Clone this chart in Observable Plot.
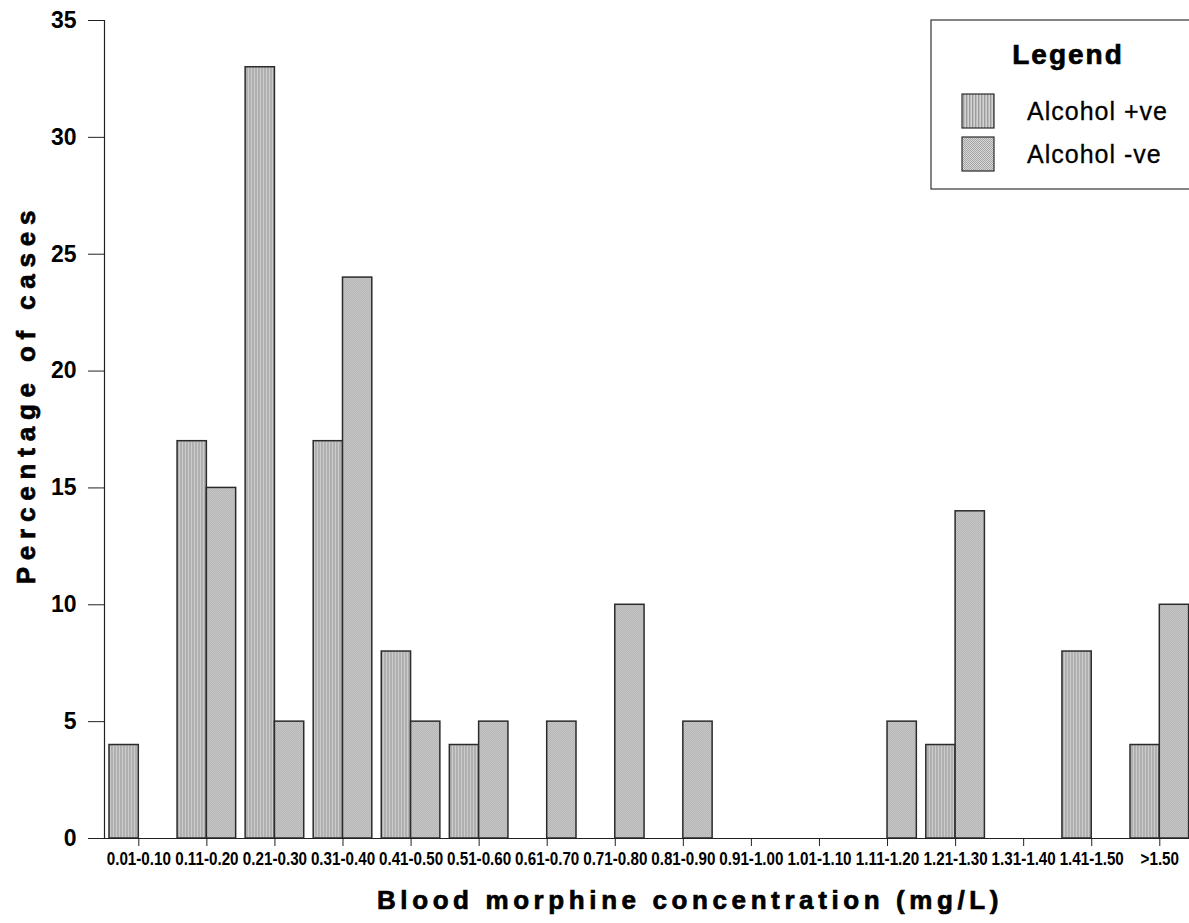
<!DOCTYPE html>
<html>
<head>
<meta charset="utf-8">
<script src="https://cdn.jsdelivr.net/npm/d3@7"></script>
<script src="https://cdn.jsdelivr.net/npm/@observablehq/plot@0.6"></script>
<style>
  body { margin: 0; background: #fff; }
  #chart { position: relative; width: 1189px; height: 923px; overflow: hidden; }
</style>
</head>
<body>
<svg width="0" height="0" style="position:absolute">
  <defs>
    <pattern id="pPos" width="3" height="4" patternUnits="userSpaceOnUse">
      <rect width="3" height="4" fill="#d2d2d2"/>
      <rect x="0" width="1" height="4" fill="#9c9c9c"/>
      <rect x="1" width="1" height="4" fill="#bdbdbd"/>
    </pattern>
    <pattern id="pNeg" width="2" height="2" patternUnits="userSpaceOnUse">
      <rect width="2" height="2" fill="#d8d8d8"/>
      <rect x="0" y="0" width="1" height="1" fill="#a4a4a4"/>
      <rect x="1" y="1" width="1" height="1" fill="#a4a4a4"/>
    </pattern>
  </defs>
</svg>
<div id="chart"></div>
<script>
const categories = ["0.01-0.10","0.11-0.20","0.21-0.30","0.31-0.40","0.41-0.50","0.51-0.60","0.61-0.70","0.71-0.80","0.81-0.90","0.91-1.00","1.01-1.10","1.11-1.20","1.21-1.30","1.31-1.40","1.41-1.50",">1.50"];
const alcoholPositive = [4,17,33,17,8,4,0,0,0,0,0,0,4,0,8,4];
const alcoholNegative = [0,15,5,24,5,5,5,10,5,0,0,5,14,0,0,10];
const seriesNames = ["Alcohol +ve","Alcohol -ve"];
const yTicks = [0,5,10,15,20,25,30,35];
const xTitle = "Blood morphine concentration (mg/L)";
const yTitle = "Percentage of cases";
const legendTitle = "Legend";

const posRows = categories.map((c, i) => ({category: c, series: seriesNames[0], value: alcoholPositive[i]}));
const negRows = categories.map((c, i) => ({category: c, series: seriesNames[1], value: alcoholNegative[i]}));

const barW = 29.3;
const font = "'Liberation Sans', Arial, sans-serif";

const svg = Plot.plot({
  width: 1189,
  height: 923,
  marginTop: 20,
  marginBottom: 85,
  marginLeft: 104,
  marginRight: 0,
  style: {background: "#fff", color: "#000", fontFamily: font},
  x: {domain: categories, range: [104, 1193.6], paddingInner: 0.5696, paddingOuter: 0.2887, align: 0.5, round: false},
  y: {domain: [0, 35]},
  marks: [
    Plot.barY(posRows, {x: "category", y: "value", fill: "url(#pPos)", stroke: "#2b2b2b", strokeWidth: 1.5, dx: -barW / 2}),
    Plot.barY(negRows, {x: "category", y: "value", fill: "url(#pNeg)", stroke: "#2b2b2b", strokeWidth: 1.5, dx: barW / 2}),
    Plot.ruleY([0], {stroke: "#222", strokeWidth: 1.2}),
    Plot.frame({anchor: "left", stroke: "#222", strokeWidth: 1.2}),
    Plot.axisY({ticks: yTicks, tickSize: 16, tickPadding: 12, fontSize: 23, fontWeight: "bold", fontFamily: font, label: null, stroke: "#222"}),
    Plot.axisX({tickSize: 8, tickPadding: 5, fontSize: 19, fontWeight: "bold", fontFamily: font, label: null, stroke: "#222"})
  ]
});

const s = d3.select(svg);

// condense the x tick labels horizontally (narrow bold face in the reference)
s.selectAll('[aria-label="x-axis tick label"] text').each(function () {
  const t = this.getAttribute("transform") || "";
  const x = this.getAttribute("x");
  if (x != null) this.setAttribute("x", +x / 0.8);
  this.setAttribute("transform", t + " scale(0.8,1)");
});

// axis titles (heavy face: bold plus a thin matching stroke)
s.append("text")
  .attr("x", 690).attr("y", 909)
  .attr("text-anchor", "middle")
  .attr("stroke", "#000").attr("stroke-width", 0.7)
  .style("font", `bold 26px ${font}`)
  .style("letter-spacing", "4.6px")
  .text(xTitle);
s.append("text")
  .attr("transform", "translate(35,394) rotate(-90)")
  .attr("text-anchor", "middle")
  .attr("stroke", "#000").attr("stroke-width", 0.7)
  .style("font", `bold 26px ${font}`)
  .style("letter-spacing", "6.8px")
  .text(yTitle);

// legend
const lg = s.append("g");
lg.append("rect").attr("x", 931).attr("y", 20).attr("width", 300).attr("height", 169)
  .attr("fill", "#fff").attr("stroke", "#333").attr("stroke-width", 1.2);
lg.append("text").attr("x", 1068).attr("y", 64).attr("text-anchor", "middle")
  .attr("stroke", "#000").attr("stroke-width", 0.7)
  .style("font", `bold 28px ${font}`).style("letter-spacing", "2px").text(legendTitle);
const fills = ["url(#pPos)", "url(#pNeg)"];
const swY = [94, 137];
const txY = [120, 163];
seriesNames.forEach((name, i) => {
  lg.append("rect").attr("x", 962).attr("y", swY[i]).attr("width", 32).attr("height", 34)
    .attr("fill", fills[i]).attr("stroke", "#2b2b2b").attr("stroke-width", 1.2);
  lg.append("text").attr("x", 1027).attr("y", txY[i]).attr("text-anchor", "start")
    .attr("stroke", "#000").attr("stroke-width", 0.3)
    .style("font", `25px ${font}`).style("letter-spacing", "1px").text(name);
});

document.getElementById("chart").appendChild(svg);
</script>
</body>
</html>
